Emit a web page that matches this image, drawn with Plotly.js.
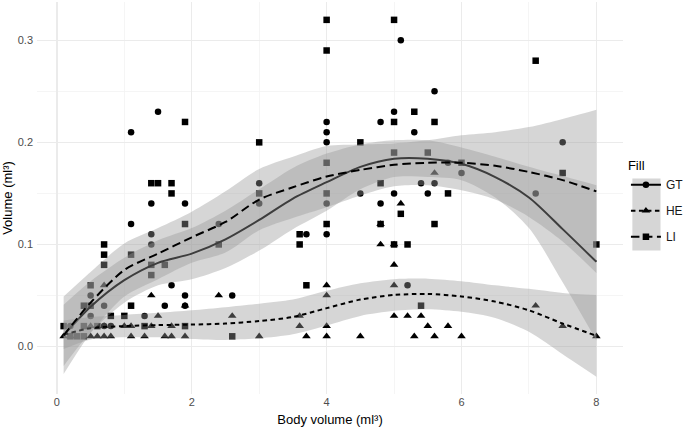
<!DOCTYPE html>
<html>
<head>
<meta charset="utf-8">
<script src="https://cdn.plot.ly/plotly-3.0.1.min.js"></script>
<style>html,body{margin:0;padding:0;background:#fff;}#chart{width:685px;height:429px;}</style>
</head>
<body>
<div id="chart"></div>
<script>
// ---- Points ----
const gtX = [0.2,0.5,0.5,0.7,0.7,0.8,1.1,1.1,1.3,1.4,1.4,1.4,1.5,1.6,1.7,1.9,1.9,1.9,2.4,2.6,3.0,3.0,3.7,4.0,4.0,4.0,4.0,4.0,4.5,4.8,4.8,5.0,5.0,5.1,5.2,5.3,5.4,5.5,5.6,5.6,5.8,6.0,7.1,7.5];
const gtY = [0.02,0.05,0.03,0.04,0.02,0.02,0.21,0.12,0.03,0.14,0.11,0.10,0.23,0.04,0.06,0.14,0.05,0.04,0.12,0.05,0.16,0.14,0.11,0.22,0.21,0.20,0.14,0.11,0.15,0.22,0.14,0.23,0.15,0.30,0.06,0.21,0.16,0.15,0.25,0.16,0.18,0.17,0.15,0.20];

const heX = [0.1,0.2,0.5,0.5,0.6,0.7,0.7,0.7,0.8,1.0,1.1,1.1,1.3,1.4,1.4,1.5,1.6,1.7,1.7,1.9,1.9,2.4,2.6,3.0,3.6,3.6,3.7,4.0,4.0,4.0,4.0,4.5,4.8,4.8,5.0,5.0,5.0,5.0,5.1,5.2,5.3,5.4,5.5,5.6,5.6,5.8,6.0,7.1,7.5,8.0];
const heY = [0.01,0.01,0.02,0.01,0.01,0.06,0.02,0.01,0.01,0.02,0.02,0.01,0.01,0.05,0.02,0.03,0.01,0.02,0.01,0.04,0.01,0.05,0.03,0.01,0.03,0.02,0.01,0.06,0.05,0.02,0.01,0.01,0.12,0.10,0.10,0.08,0.06,0.03,0.14,0.03,0.01,0.03,0.02,0.17,0.01,0.02,0.01,0.04,0.02,0.01];

const liX = [0.1,0.2,0.3,0.4,0.4,0.4,0.5,0.5,0.6,0.7,0.7,0.7,0.8,1.0,1.1,1.1,1.3,1.4,1.4,1.4,1.5,1.6,1.7,1.7,1.9,1.9,1.9,2.4,2.6,3.0,3.0,3.6,3.6,3.7,4.0,4.0,4.0,4.0,4.0,4.5,4.8,4.8,5.0,5.0,5.0,5.0,5.1,5.2,5.3,5.4,5.5,5.6,5.6,5.8,6.0,7.1,7.5,8.0];
const liY = [0.02,0.01,0.01,0.04,0.02,0.01,0.06,0.04,0.02,0.10,0.09,0.08,0.03,0.03,0.09,0.04,0.02,0.16,0.08,0.07,0.16,0.08,0.16,0.15,0.22,0.12,0.02,0.10,0.01,0.20,0.15,0.11,0.10,0.06,0.32,0.29,0.18,0.15,0.12,0.20,0.16,0.12,0.32,0.22,0.19,0.10,0.13,0.10,0.23,0.04,0.19,0.22,0.12,0.15,0.18,0.28,0.17,0.10];

// ---- Smooth fits and confidence bands ----
const fitX = [0.1,0.5,1,1.5,2,2.5,3,3.5,4,4.5,5,5.5,6,6.5,7,7.5,8];
const gtFit = [0.011,0.039,0.065,0.082,0.091,0.105,0.124,0.145,0.161,0.176,0.184,0.184,0.179,0.166,0.146,0.115,0.083];
const gtUp  = [0.041,0.064,0.087,0.104,0.116,0.133,0.154,0.175,0.189,0.198,0.202,0.202,0.195,0.186,0.176,0.167,0.158];
const gtLo  = [-0.019,0.014,0.043,0.060,0.066,0.077,0.094,0.115,0.133,0.154,0.166,0.166,0.163,0.146,0.116,0.063,0.006];
const heFit = [0.0115,0.018,0.020,0.021,0.0215,0.0225,0.025,0.029,0.0376,0.046,0.0505,0.0515,0.049,0.044,0.0355,0.0225,0.0105];
const heUp  = [0.0255,0.029,0.031,0.033,0.0355,0.0385,0.042,0.046,0.0546,0.062,0.066,0.0665,0.064,0.060,0.0565,0.0525,0.0505];
const heLo  = [-0.0025,0.007,0.009,0.009,0.0075,0.0065,0.008,0.012,0.0206,0.030,0.035,0.0365,0.034,0.028,0.0145,-0.0075,-0.0295];
const liFit = [0.011,0.043,0.075,0.091,0.107,0.122,0.144,0.156,0.1665,0.173,0.178,0.180,0.180,0.177,0.171,0.163,0.152];
const liUp  = [0.049,0.073,0.101,0.116,0.132,0.152,0.174,0.186,0.1965,0.198,0.199,0.202,0.207,0.210,0.215,0.223,0.232];
const liLo  = [-0.027,0.013,0.049,0.066,0.082,0.092,0.114,0.126,0.1365,0.148,0.157,0.158,0.153,0.144,0.127,0.103,0.072];

const groups = ['GT','HE','LI'];
const symbols = ['circle','triangle-up','square'];
const sizes = [6.5,7.5,6.5];
const dashes = ['solid','4.5px,3.5px','8.5px,4.5px'];

const ribbonFill = 'rgba(153,153,153,0.4)';
const pts = [[gtX,gtY],[heX,heY],[liX,liY]];
const fits = [[gtFit,gtUp,gtLo],[heFit,heUp,heLo],[liFit,liUp,liLo]];

const traces = [];
groups.forEach((g,i)=>{
  traces.push({x:pts[i][0], y:pts[i][1], type:'scatter', mode:'markers', showlegend:false, hoverinfo:'x+y',
    marker:{symbol:symbols[i], size:sizes[i], color:'#000000', line:{width:0}}});
});
groups.forEach((g,i)=>{
  traces.push({x:fitX, y:fits[i][2], type:'scatter', mode:'lines', showlegend:false, hoverinfo:'skip',
    line:{width:0, shape:'spline', smoothing:0.8, color:'rgba(0,0,0,0)'}});
  traces.push({x:fitX, y:fits[i][1], type:'scatter', mode:'lines', showlegend:false, hoverinfo:'skip', fill:'tonexty', fillcolor:ribbonFill,
    line:{width:0, shape:'spline', smoothing:0.8, color:'rgba(0,0,0,0)'}});
  traces.push({x:fitX, y:fits[i][0], type:'scatter', mode:'lines', showlegend:false,
    line:{width:2, shape:'spline', smoothing:0.8, color:'#000000', dash:dashes[i]}});
});
groups.forEach((g,i)=>{
  traces.push({x:[null], y:[null], type:'scatter', mode:'lines+markers', name:g, legendgroup:g, showlegend:true,
    marker:{symbol:symbols[i], size:sizes[i], color:'#000000'},
    line:{width:2, color:'#000000', dash:dashes[i]}});
});

const font = 'Liberation Sans, Arial, sans-serif';
const layout = {
  width:685, height:429,
  margin:{l:37, r:62, t:2, b:35, autoexpand:false},
  paper_bgcolor:'#ffffff', plot_bgcolor:'#ffffff',
  font:{family:font, color:'#000000'},
  xaxis:{range:[-0.295,8.395], tick0:0, dtick:2, showgrid:true, gridcolor:'#ebebeb', gridwidth:1.3,
    zeroline:false, showline:false, ticks:'', tickfont:{size:11, color:'#4d4d4d', family:font},
    minor:{tick0:0, dtick:1, showgrid:true, gridcolor:'#f2f2f2', gridwidth:0.8},
    title:{text:'Body volume (ml³)', font:{size:13, color:'#000000', family:font}, standoff:7}, automargin:false},
  yaxis:{range:[-0.0465,0.3375], tick0:0, dtick:0.1, tickformat:'.1f', showgrid:true, gridcolor:'#ebebeb', gridwidth:1.3,
    zeroline:false, showline:false, ticks:'', ticklabelstandoff:3, tickfont:{size:11, color:'#4d4d4d', family:font},
    minor:{tick0:0, dtick:0.05, showgrid:true, gridcolor:'#f2f2f2', gridwidth:0.8},
    title:{text:'Volume (ml³)', font:{size:13, color:'#000000', family:font}, standoff:4}, automargin:false},
  legend:{x:1.005, xanchor:'left', y:0.614, yanchor:'top', traceorder:'grouped', tracegroupgap:7,
    itemwidth:30, font:{size:12, color:'#1a1a1a', family:font}, bgcolor:'rgba(0,0,0,0)',
    title:{text:'Fill', font:{size:13, color:'#000000', family:font}}},
  shapes:[{type:'rect', xref:'paper', yref:'paper', x0:1.016, x1:1.064, y0:0.366, y1:0.55,
    fillcolor:'#d6d6d6', line:{width:0}, layer:'below'}],
  showlegend:true
};
Plotly.newPlot('chart', traces, layout, {displayModeBar:false, staticPlot:true});
</script>
</body>
</html>
